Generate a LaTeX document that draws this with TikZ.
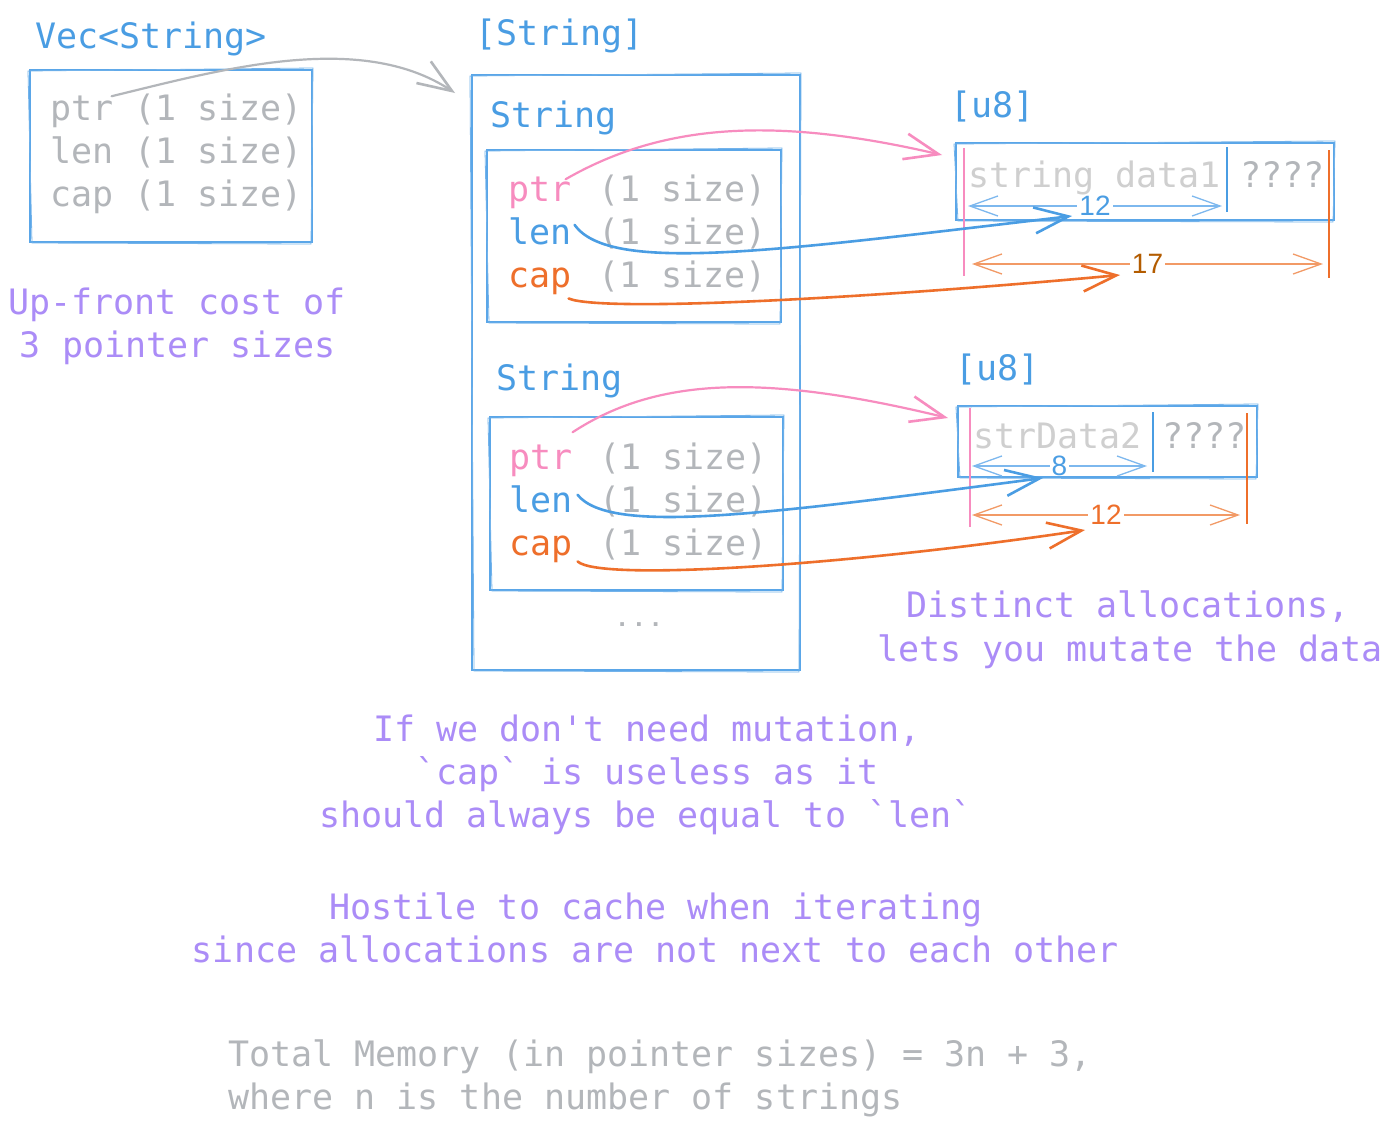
\documentclass[tikz,border=0pt]{standalone}
\usepackage{fontspec}
\setmonofont{DejaVu Sans Mono}
\newfontfamily\numfont{Liberation Sans}
\usetikzlibrary{arrows.meta,calc}

\definecolor{tblue}{HTML}{4A9DE3}
\definecolor{boxblue}{HTML}{5AA6E8}
\definecolor{tgrey}{HTML}{B3B6BA}
\definecolor{dgrey}{HTML}{CFCFCF}
\definecolor{tpink}{HTML}{F78CBF}
\definecolor{torange}{HTML}{EE6F2B}
\definecolor{tpurple}{HTML}{AB8CF7}
\definecolor{tbrown}{HTML}{B35C00}
\definecolor{dimblue}{HTML}{7DB8EE}
\definecolor{dimorange}{HTML}{F29A66}

\tikzset{
  txt/.style={font=\ttfamily\fontsize{35}{43}\selectfont, inner sep=0pt, anchor=base west},
  note/.style={font=\ttfamily\fontsize{35}{43}\selectfont, inner sep=0pt, anchor=base, text=tpurple},
  boxnode/.style={draw=boxblue, line width=1.1pt, inner sep=0pt, outer sep=0pt, rectangle},
  boxline/.style={draw=boxblue!85, line width=0.8pt},
  conn/.style={line width=2.6pt, line cap=round,
    -{Straight Barb[length=34pt,width=26pt,line width=2.6pt]}},
  marker/.style={line width=1.8pt},
  dimline/.style={line width=1.3pt,
    {Straight Barb[length=28pt,width=20pt,line width=1.3pt]}-{Straight Barb[length=28pt,width=20pt,line width=1.3pt]}},
  dimlabel/.style={font=\numfont\fontsize{28}{28}\selectfont, fill=white, inner xsep=2pt, inner ysep=0pt}
}

% a hand-drawn looking box: a node plus a second, slightly skewed stroke
\newcommand\sketchbox[5]{%
  \node[boxnode, minimum width={#4-#2}, minimum height={#5-#3}] (#1) at ({(#2+#4)/2},{(#3+#5)/2}) {};
  \draw[boxline] ($(#1.north west)+(-2,1)$) -- ($(#1.north east)+(1,-2)$)
    -- ($(#1.south east)+(-1,2)$) -- ($(#1.south west)+(2,1)$) -- cycle;}

\begin{document}
\begin{tikzpicture}[x=1pt,y=-1pt]
\fill[white] (0,0) rectangle (1393,1128);
\useasboundingbox (0,0) rectangle (1393,1128);

% ---------- titles ----------
\node[txt, text=tblue] (vectitle) at (35,48) {Vec<String>};
\node[txt, text=tblue] (arrtitle) at (475,45) {[String]};
\node[txt, text=tblue] (s1title) at (490,127) {String};
\node[txt, text=tblue] (s2title) at (496,390) {String};
\node[txt, text=tblue] (u1title) at (950,117) {[u8]};
\node[txt, text=tblue] (u2title) at (955,380) {[u8]};

% ---------- boxes ----------
\sketchbox{vecbox}{30}{70}{312}{242}
\sketchbox{arrbox}{472}{75}{800}{670}
\sketchbox{s1box}{487}{150}{781}{322}
\sketchbox{s2box}{490}{417}{783}{590}
\sketchbox{u1box}{956}{143}{1334}{220}
\sketchbox{u2box}{958}{406}{1257}{477}

% ---------- Vec<String> fields ----------
\node[txt, text=tgrey] (vecptr) at (50,120) {ptr};
\node[txt, text=tgrey] (vecptrsz) at (134,120) {(1 size)};
\node[txt, text=tgrey] (veclen) at (50,163) {len};
\node[txt, text=tgrey] (veclensz) at (134,163) {(1 size)};
\node[txt, text=tgrey] (veccap) at (50,206) {cap};
\node[txt, text=tgrey] (veccapsz) at (134,206) {(1 size)};

% ---------- first String ----------
\node[txt, text=tpink] (s1ptr) at (508,201) {ptr};
\node[txt, text=tgrey] (s1ptrsz) at (598,201) {(1 size)};
\node[txt, text=tblue] (s1len) at (508,244) {len};
\node[txt, text=tgrey] (s1lensz) at (598,244) {(1 size)};
\node[txt, text=torange] (s1cap) at (508,287) {cap};
\node[txt, text=tgrey] (s1capsz) at (598,287) {(1 size)};

% ---------- second String ----------
\node[txt, text=tpink] (s2ptr) at (509,469) {ptr};
\node[txt, text=tgrey] (s2ptrsz) at (599,469) {(1 size)};
\node[txt, text=tblue] (s2len) at (509,512) {len};
\node[txt, text=tgrey] (s2lensz) at (599,512) {(1 size)};
\node[txt, text=torange] (s2cap) at (509,555) {cap};
\node[txt, text=tgrey] (s2capsz) at (599,555) {(1 size)};

\node[font=\numfont\bfseries\fontsize{26}{26}\selectfont, text=tgrey, inner sep=0pt, anchor=base] (more) at (639,626) {. . .};

% ---------- byte buffers ----------
\node[txt, text=dgrey] (u1data) at (968,187) {string data1};
\node[txt, text=tgrey] (u1rest) at (1240,187) {????};
\node[txt, text=dgrey] (u2data) at (973,448) {strData2};
\node[txt, text=tgrey] (u2rest) at (1162,448) {????};

% markers: start (pink), len (blue), cap (orange)
\coordinate (u1ptrT) at (964,148);  \coordinate (u1ptrB) at (964,276);
\coordinate (u1lenT) at (1227,147); \coordinate (u1lenB) at (1227,212);
\coordinate (u1capT) at (1329,150); \coordinate (u1capB) at (1329,278);
\draw[marker, tpink] (u1ptrT) -- (u1ptrB);
\draw[marker, tblue] (u1lenT) -- (u1lenB);
\draw[marker, torange] (u1capT) -- (u1capB);

\coordinate (u2ptrT) at (970,408);  \coordinate (u2ptrB) at (970,527);
\coordinate (u2lenT) at (1153,412); \coordinate (u2lenB) at (1153,472);
\coordinate (u2capT) at (1247,413); \coordinate (u2capB) at (1247,524);
\draw[marker, tpink] (u2ptrT) -- (u2ptrB);
\draw[marker, tblue] (u2lenT) -- (u2lenB);
\draw[marker, torange] (u2capT) -- (u2capB);

% dimension lines
\coordinate (d1a) at (968,206);  \coordinate (d1b) at (1222,206);
\coordinate (d2a) at (972,264);  \coordinate (d2b) at (1323,264);
\coordinate (d3a) at (972,466);  \coordinate (d3b) at (1147,466);
\coordinate (d4a) at (972,515);  \coordinate (d4b) at (1240,515);
\draw[dimline, dimblue] (d1a) -- node[dimlabel, text=tblue] (n12a) {12} (d1b);
\draw[dimline, dimorange] (d2a) -- node[dimlabel, text=tbrown] (n17) {17} (d2b);
\draw[dimline, dimblue] (d3a) -- node[dimlabel, text=tblue] (n8) {8} (d3b);
\draw[dimline, dimorange] (d4a) -- node[dimlabel, text=torange] (n12b) {12} (d4b);

% ---------- pointers ----------
\coordinate (arrin) at (455,93);
\coordinate (u1in) at (942,155);
\coordinate (u2in) at (948,418);
\coordinate (len1in) at (1072,216);
\coordinate (cap1in) at (1120,275);
\coordinate (len2in) at (1043,478);
\coordinate (cap2in) at (1085,530);

\draw[conn, tgrey, line width=2.2pt] ($(vecptr.north east)+(-2,1)$) .. controls (220,70) and (360,30) .. (arrin);
\draw[conn, tpink, line width=2.2pt] ($(s1ptr.north east)+(-6,3)$) .. controls (660,125) and (770,115) .. (u1in);
\draw[conn, tblue] ($(s1len.east)+(3,-6)$) .. controls (610,275) and (780,250) .. (len1in);
\draw[conn, torange] ($(s1cap.south east)+(-3,4)$) .. controls (600,312) and (850,300) .. (cap1in);
\draw[conn, tpink, line width=2.2pt] ($(s2ptr.north east)+(0,-12)$) .. controls (660,375) and (770,375) .. (u2in);
\draw[conn, tblue] ($(s2len.east)+(5,-4)$) .. controls (610,535) and (760,515) .. (len2in);
\draw[conn, torange] ($(s2cap.south east)+(5,-1)$) .. controls (600,582) and (850,565) .. (cap2in);

% ---------- notes ----------
\node[note] (upa) at (177,314) {Up-front cost of};
\node[note] (upb) at (178,357) {3 pointer sizes};
\node[note] (dista) at (1128,617) {Distinct allocations,};
\node[note] (distb) at (1130,661) {lets you mutate the data};
\node[note] (mut1) at (647,741) {If we don't need mutation,};
\node[note] (mut2) at (647,784) {`cap` is useless as it};
\node[note] (mut3) at (646,827) {should always be equal to `len`};
\node[note] (cache1) at (656,919) {Hostile to cache when iterating};
\node[note] (cache2) at (655.5,962) {since allocations are not next to each other};
\node[txt, text=tgrey] (tot1) at (228,1066) {Total Memory (in pointer sizes) = 3n + 3,};
\node[txt, text=tgrey] (tot2) at (228,1109) {where n is the number of strings};
\end{tikzpicture}
\end{document}
